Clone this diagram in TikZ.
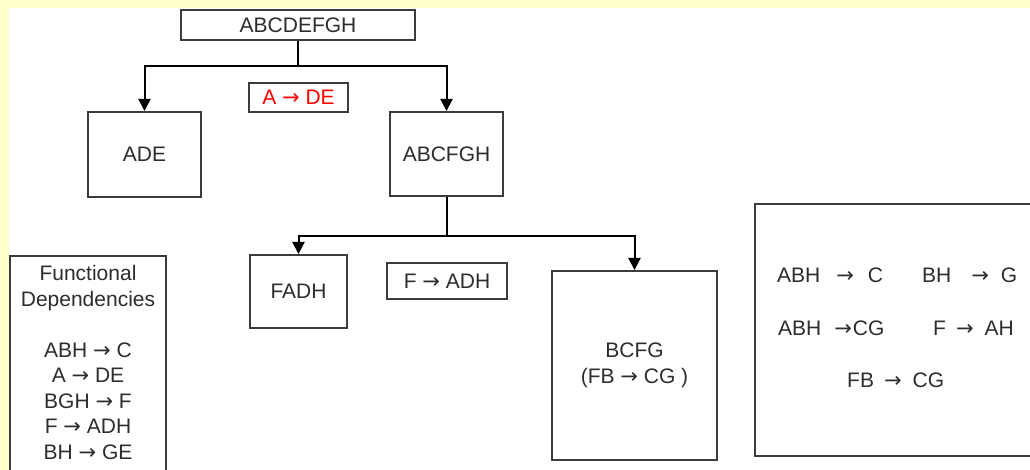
\documentclass[tikz,border=0pt]{standalone}
\usepackage{fontspec}
\setmainfont{Liberation Sans}
\newfontfamily\arrfont{DejaVu Sans}
\newcommand\rarr{{\arrfont →}}
\usetikzlibrary{arrows.meta}
\definecolor{bgyellow}{RGB}{255,255,204}
\definecolor{boxline}{RGB}{60,60,60}
\definecolor{txt}{RGB}{45,45,45}
\begin{document}
\begin{tikzpicture}[x=1pt,y=-1pt,
  box/.style={draw=boxline, line width=2pt, inner sep=0pt, text=txt, font=\fontsize{21}{26}\selectfont},
  lbl/.style={inner sep=0pt, text=txt, font=\fontsize{21}{25.5}\selectfont},
  conn/.style={line width=2pt, draw=black, -{Triangle[width=12pt,length=12pt]}}]
\fill[bgyellow] (0,0) rectangle (1030,470);
\fill[white] (9,8) rectangle (1030,470);
\useasboundingbox (0,0) rectangle (1030,470);
\begin{scope}
\clip (0,0) rectangle (1030,470);
\node[box, minimum width=234pt, minimum height=30pt] (top) at (298,25) {ABCDEFGH};
\node[box, minimum width=113pt, minimum height=85pt] (ade) at (144.5,154.5) {ADE};
\node[box, minimum width=113pt, minimum height=84pt] (abcfgh) at (446.5,154) {ABCFGH};
\node[box, text=red, minimum width=99pt, minimum height=29pt] (r1) at (298.5,97.5) {A \rarr{} DE};
\node[box, minimum width=97pt, minimum height=73pt] (fadh) at (298.5,291.5) {FADH};
\node[box, minimum width=120pt, minimum height=36pt] (r2) at (447,281) {F \rarr{} ADH};
\node[box, minimum width=165pt, minimum height=189pt, align=center] (bcfg) at (634.5,365.5) {BCFG\\(FB \rarr{} CG )};
\node[box, minimum width=156pt, minimum height=280pt, anchor=north] (fd) at (88,255) {};
\node[lbl, align=center] (fdtext) at (88,362.5) {Functional\\Dependencies\\[25.5pt]ABH \rarr{} C\\A \rarr{} DE\\BGH \rarr{} F\\F \rarr{} ADH\\BH \rarr{} GE};
\node[box, minimum width=320pt, minimum height=252pt, anchor=north west] (rbox) at (754,203) {};
\node[lbl, anchor=west] (d1) at (777,275) {ABH\hspace{16pt}\rarr\hspace{14pt}C};
\node[lbl, anchor=west] (d2) at (922,275) {BH\hspace{20pt}\rarr\hspace{12pt}G};
\node[lbl, anchor=west] (d3) at (778,328) {ABH\hspace{13pt}\rarr\hspace{1pt}CG};
\node[lbl, anchor=west] (d4) at (933,328) {F\hspace{10pt}\rarr\hspace{11pt}AH};
\node[lbl, anchor=west] (d5) at (847,380) {FB\hspace{10pt}\rarr\hspace{11pt}CG};
\draw[conn] (top.south) -- ++(0,25) -| (ade.north);
\draw[conn] (top.south) -- ++(0,25) -| (abcfgh.north);
\draw[conn] (abcfgh.south) -- ++(0,39) -| (fadh.north);
\draw[conn] (abcfgh.south) -- ++(0,39) -| (bcfg.north);
\end{scope}
\end{tikzpicture}
\end{document}
